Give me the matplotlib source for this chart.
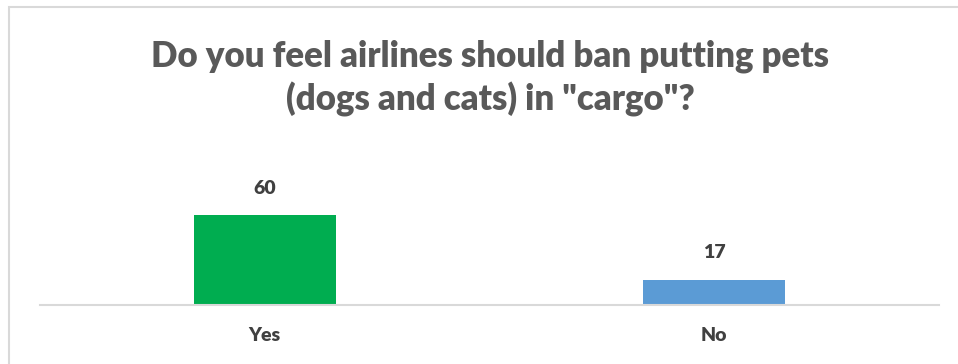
import matplotlib.pyplot as plt
from matplotlib.patches import Rectangle

categories = ['Yes', 'No']
votes = [60, 17]
bar_colors = ['#00AD50', '#5B9BD5']
title = 'Do you feel airlines should ban putting pets\n(dogs and cats) in "cargo"?'

W, H = 958, 364
fig = plt.figure(figsize=(W / 100, H / 100), dpi=100)
plt.rcParams['font.family'] = ['Lato', 'DejaVu Sans']

# chart border (cut off on right and bottom in the original)
fig.patches.append(Rectangle((9 / W, -0.1), 1.2, 1.1 - 7 / H, transform=fig.transFigure,
                             fill=False, edgecolor='#D9D9D9', linewidth=1.5))

ax = fig.add_axes([40 / W, (H - 305) / H, 899 / W, 105 / H])
x = range(len(categories))
bars = ax.bar(x, votes, width=0.316, color=bar_colors)
ax.set_xlim(-0.5, 1.5)
ax.set_ylim(0, 70)

for b, v in zip(bars, votes):
    ax.text(b.get_x() + b.get_width() / 2, v + 18, str(v), ha='center', va='center',
            fontsize=14, fontweight='heavy', color='#404040')

ax.set_xticks(list(x))
ax.set_xticklabels(categories, fontsize=14, fontweight='heavy', color='#404040')
ax.tick_params(axis='x', length=0, pad=16)
ax.set_yticks([])
for s in ['top', 'right', 'left']:
    ax.spines[s].set_visible(False)
ax.spines['bottom'].set_color('#D9D9D9')
ax.spines['bottom'].set_linewidth(1.5)

fig.text(490 / W, 1 - 78 / H, title, ha='center', va='center', fontsize=25,
         fontweight='heavy', color='#595959', linespacing=1.3)

fig.savefig('out.png', dpi=100)
